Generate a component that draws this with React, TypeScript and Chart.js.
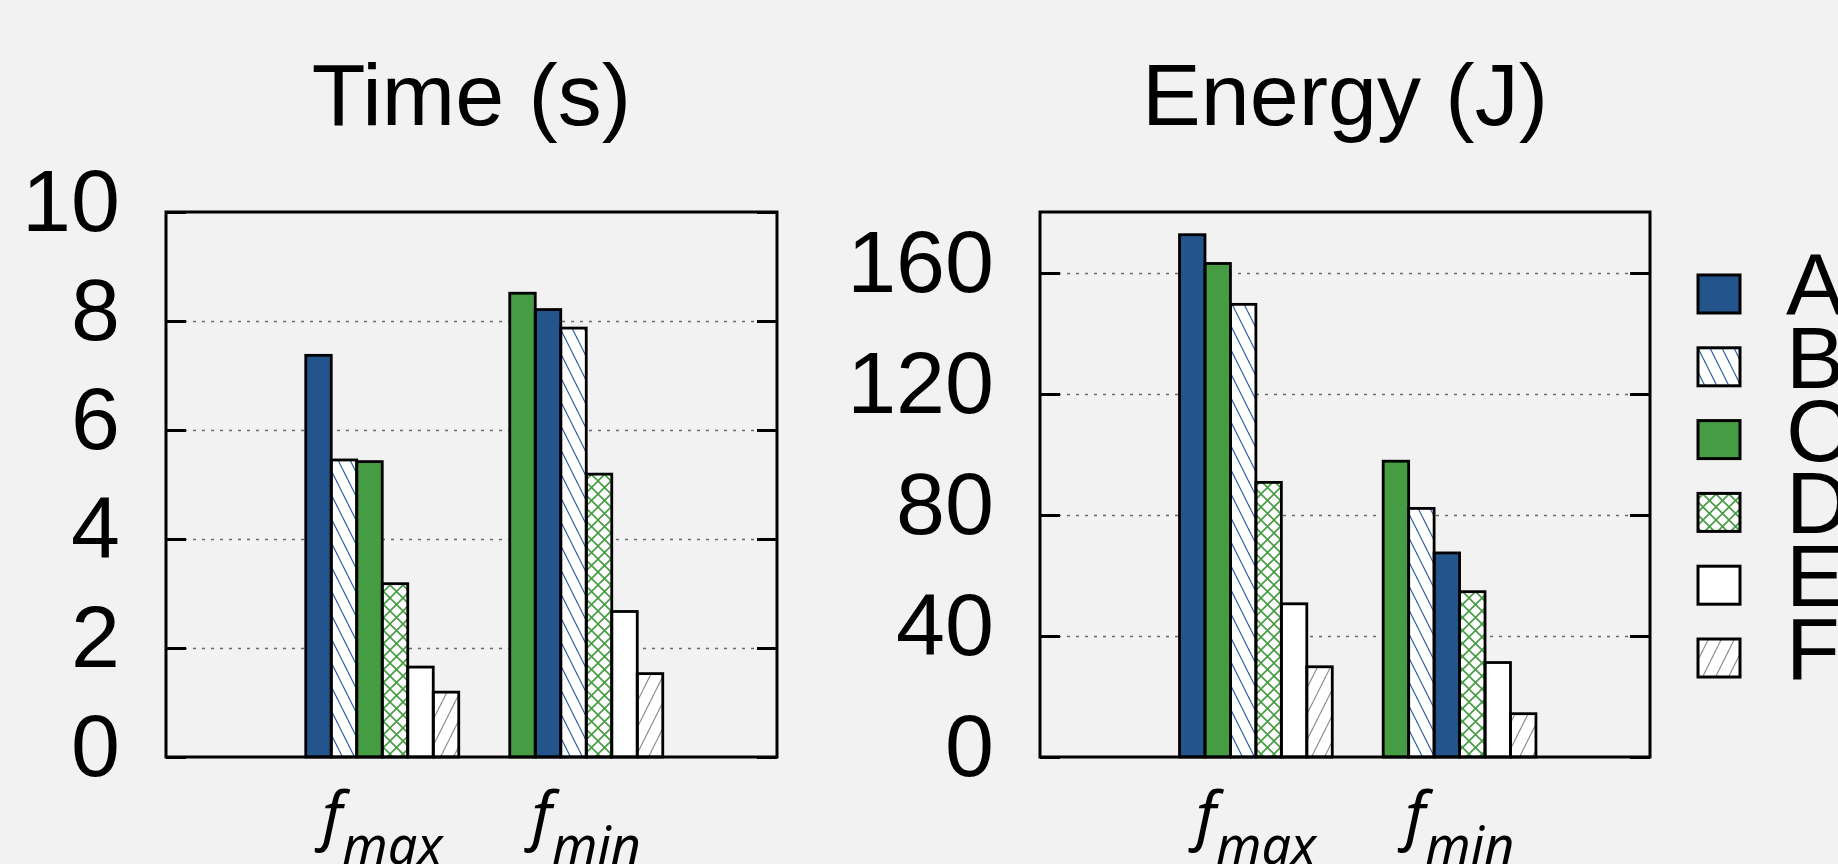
import React, { useEffect, useRef } from 'react';
import { Chart, registerables } from 'chart.js';

Chart.register(...registerables);

// ---------------- data ----------------
const categorySubscripts = ['max', 'min']; // labels are f_max, f_min
const seriesNames = ['A', 'B', 'C', 'D', 'E', 'F'];

const timeA = [7.37, 8.21];
const timeB = [5.45, 7.87];
const timeC = [5.42, 8.51];
const timeD = [3.18, 5.19];
const timeE = [1.65, 2.67];
const timeF = [1.19, 1.53];

const energyA = [172.5, 67.4];
const energyB = [149.5, 82.1];
const energyC = [163.0, 97.7];
const energyD = [90.7, 54.6];
const energyE = [50.6, 31.2];
const energyF = [29.8, 14.3];

const timeTicks = [0, 2, 4, 6, 8, 10];
const energyTicks = [0, 40, 80, 120, 160];

// ---------------- style ----------------
const W = 1838;
const H = 864;
const BG = '#f2f2f2';
const FONT = '"Liberation Sans", Arial, Helvetica, sans-serif';
const XFONT = '"Noto Sans", "Open Sans", sans-serif';
const BLUE = '#24548c';
const GREEN = '#469c43';

function linePattern(color: string, period: number, dir: number): any {
  const c = document.createElement('canvas');
  c.width = period;
  c.height = period * 2;
  const g = c.getContext('2d')!;
  g.fillStyle = '#ffffff';
  g.fillRect(0, 0, c.width, c.height);
  g.strokeStyle = color;
  g.lineWidth = 1.2;
  for (let o = -1; o <= 1; o++) {
    g.beginPath();
    if (dir === 1) {
      g.moveTo(o * period, 0);
      g.lineTo(o * period + period, period * 2);
    } else {
      g.moveTo(o * period, period * 2);
      g.lineTo(o * period + period, 0);
    }
    g.stroke();
  }
  return g.createPattern(c, 'repeat');
}

function crossPattern(color: string, p: number): any {
  const c = document.createElement('canvas');
  c.width = p;
  c.height = p;
  const g = c.getContext('2d')!;
  g.fillStyle = '#ffffff';
  g.fillRect(0, 0, p, p);
  g.strokeStyle = color;
  g.lineWidth = 1.6;
  for (let o = -1; o <= 1; o++) {
    g.beginPath();
    g.moveTo(o * p, 0);
    g.lineTo(o * p + p, p);
    g.stroke();
    g.beginPath();
    g.moveTo(o * p, p);
    g.lineTo(o * p + p, 0);
    g.stroke();
  }
  return g.createPattern(c, 'repeat');
}

function makeFills() {
  return [
    BLUE,
    linePattern('#2b5ca3', 12, 1),
    GREEN,
    crossPattern(GREEN, 13),
    '#ffffff',
    linePattern('#8a8a8a', 13, -1),
  ];
}

// bars in each group are ordered by value (descending)
function buildSlots(values: number[][], fills: any[]) {
  const orders = categorySubscripts.map((_, i) =>
    values.map((_, s) => s).sort((a, b) => values[b][i] - values[a][i])
  );
  return values.map((_, k) => ({
    label: 'slot' + k,
    data: categorySubscripts.map((_, i) => ({ x: i, y: values[orders[i][k]][i] })),
    backgroundColor: categorySubscripts.map((_, i) => fills[orders[i][k]]),
    borderWidth: 0,
    categoryPercentage: 0.75,
    barPercentage: 1,
  }));
}

const framePlugin = {
  id: 'frame',
  beforeDatasetsDraw(chart: any) {
    const { ctx, chartArea: a } = chart;
    const y = chart.scales.y;
    ctx.save();
    ctx.strokeStyle = '#6a6a6a';
    ctx.lineWidth = 1.4;
    ctx.setLineDash([3, 6]);
    y.ticks.forEach((t: any) => {
      if (t.value === y.min || t.value === y.max) return;
      const py = Math.round(y.getPixelForValue(t.value)) + 0.5;
      ctx.beginPath();
      ctx.moveTo(a.left, py);
      ctx.lineTo(a.right, py);
      ctx.stroke();
    });
    ctx.restore();
  },
  afterDatasetsDraw(chart: any) {
    const { ctx, chartArea: a } = chart;
    const y = chart.scales.y;
    ctx.save();
    ctx.strokeStyle = '#000';
    ctx.lineWidth = 2.8;
    ctx.lineJoin = 'miter';
    chart.data.datasets.forEach((_: any, di: number) => {
      const meta = chart.getDatasetMeta(di);
      meta.data.forEach((el: any) => {
        const p = el.getProps(['x', 'y', 'base', 'width'], true);
        ctx.strokeRect(p.x - p.width / 2, p.y, p.width, p.base - p.y);
      });
    });
    ctx.lineWidth = 3;
    ctx.strokeRect(a.left, a.top, a.right - a.left, a.bottom - a.top);
    y.ticks.forEach((t: any) => {
      const py = Math.round(y.getPixelForValue(t.value)) + 0.5;
      ctx.beginPath();
      ctx.moveTo(a.left, py);
      ctx.lineTo(a.left + 20, py);
      ctx.moveTo(a.right - 20, py);
      ctx.lineTo(a.right, py);
      ctx.stroke();
    });
    ctx.restore();
  },
  afterDraw(chart: any, _args: any, opts: any) {
    const { ctx, chartArea: a } = chart;
    const x = chart.scales.x;
    ctx.save();
    // title
    ctx.fillStyle = '#000';
    ctx.font = `88px ${FONT}`;
    ctx.textAlign = 'center';
    ctx.textBaseline = 'alphabetic';
    ctx.fillText(opts.title, (a.left + a.right) / 2, 125);
    // x labels: f with subscript
    ctx.textAlign = 'left';
    categorySubscripts.forEach((sub, i) => {
      const cx = x.getPixelForValue(i);
      ctx.font = `italic 64px ${XFONT}`;
      const wf = ctx.measureText('f').width;
      ctx.font = `italic 52px ${XFONT}`;
      const ws = ctx.measureText(sub).width;
      const x0 = cx - (wf + ws) / 2;
      ctx.font = `italic 64px ${XFONT}`;
      ctx.fillText('f', x0, 838);
      ctx.font = `italic 52px ${XFONT}`;
      ctx.fillText(sub, x0 + wf, 864);
    });
    // legend
    if (opts.legend) {
      const fills = opts.fills;
      seriesNames.forEach((name, k) => {
        const top = 275 + k * 72.8;
        ctx.fillStyle = fills[k];
        ctx.fillRect(1698, top, 42, 38);
        ctx.strokeStyle = '#000';
        ctx.lineWidth = 3;
        ctx.strokeRect(1698, top, 42, 38);
        ctx.fillStyle = '#000';
        ctx.font = `88px ${FONT}`;
        ctx.textAlign = 'left';
        ctx.fillText(name, 1786, top + 40);
      });
    }
    ctx.restore();
  },
};

function makeConfig(
  values: number[][],
  ticks: number[],
  yMax: number,
  left: number,
  right: number,
  axisWidth: number,
  title: string,
  legend: boolean
) {
  const fills = makeFills();
  return {
    type: 'bar',
    data: { datasets: buildSlots(values, fills) },
    options: {
      responsive: false,
      animation: false,
      events: [],
      devicePixelRatio: 1,
      layout: {
        padding: { left: left - axisWidth, right: W - right, top: 212, bottom: H - 757 },
      },
      plugins: {
        legend: { display: false },
        tooltip: { enabled: false },
        title: { display: false },
        frame: { title, legend, fills },
      },
      scales: {
        x: {
          type: 'linear',
          min: -1.06,
          max: 1.935,
          offset: false,
          grid: { display: false, offset: false, drawTicks: false },
          border: { display: false },
          ticks: { display: false },
          afterBuildTicks: (s: any) => {
            s.ticks = categorySubscripts.map((_, i) => ({ value: i }));
          },
          afterFit: (s: any) => {
            s.height = 0;
          },
        },
        y: {
          type: 'linear',
          position: 'left',
          min: 0,
          max: yMax,
          grid: { display: false, drawTicks: false },
          border: { display: false },
          ticks: {
            autoSkip: false,
            color: '#000',
            font: { family: FONT, size: 88 },
            padding: 46,
            labelOffset: -5,
            callback: (v: any) => String(v),
          },
          afterBuildTicks: (s: any) => {
            s.ticks = ticks.map((v) => ({ value: v }));
          },
          afterFit: (s: any) => {
            s.width = axisWidth;
          },
        },
      },
    },
    plugins: [framePlugin],
  } as any;
}

function ChartCanvas({ config }: { config: () => any }) {
  const ref = useRef<HTMLCanvasElement | null>(null);
  useEffect(() => {
    const chart = new Chart(ref.current!, config());
    return () => chart.destroy();
  }, []);
  return (
    <canvas
      ref={ref}
      width={W}
      height={H}
      style={{ position: 'absolute', left: 0, top: 0, width: W, height: H }}
    />
  );
}

export default function App() {
  return (
    <div
      style={{
        position: 'fixed',
        left: 0,
        top: 0,
        width: W,
        height: H,
        background: BG,
        overflow: 'hidden',
      }}
    >
      <ChartCanvas
        config={() =>
          makeConfig(
            [timeA, timeB, timeC, timeD, timeE, timeF],
            timeTicks,
            10,
            166,
            777,
            166,
            'Time (s)',
            false
          )
        }
      />
      <ChartCanvas
        config={() =>
          makeConfig(
            [energyA, energyB, energyC, energyD, energyE, energyF],
            energyTicks,
            180,
            1040,
            1650,
            220,
            'Energy (J)',
            true
          )
        }
      />
    </div>
  );
}
